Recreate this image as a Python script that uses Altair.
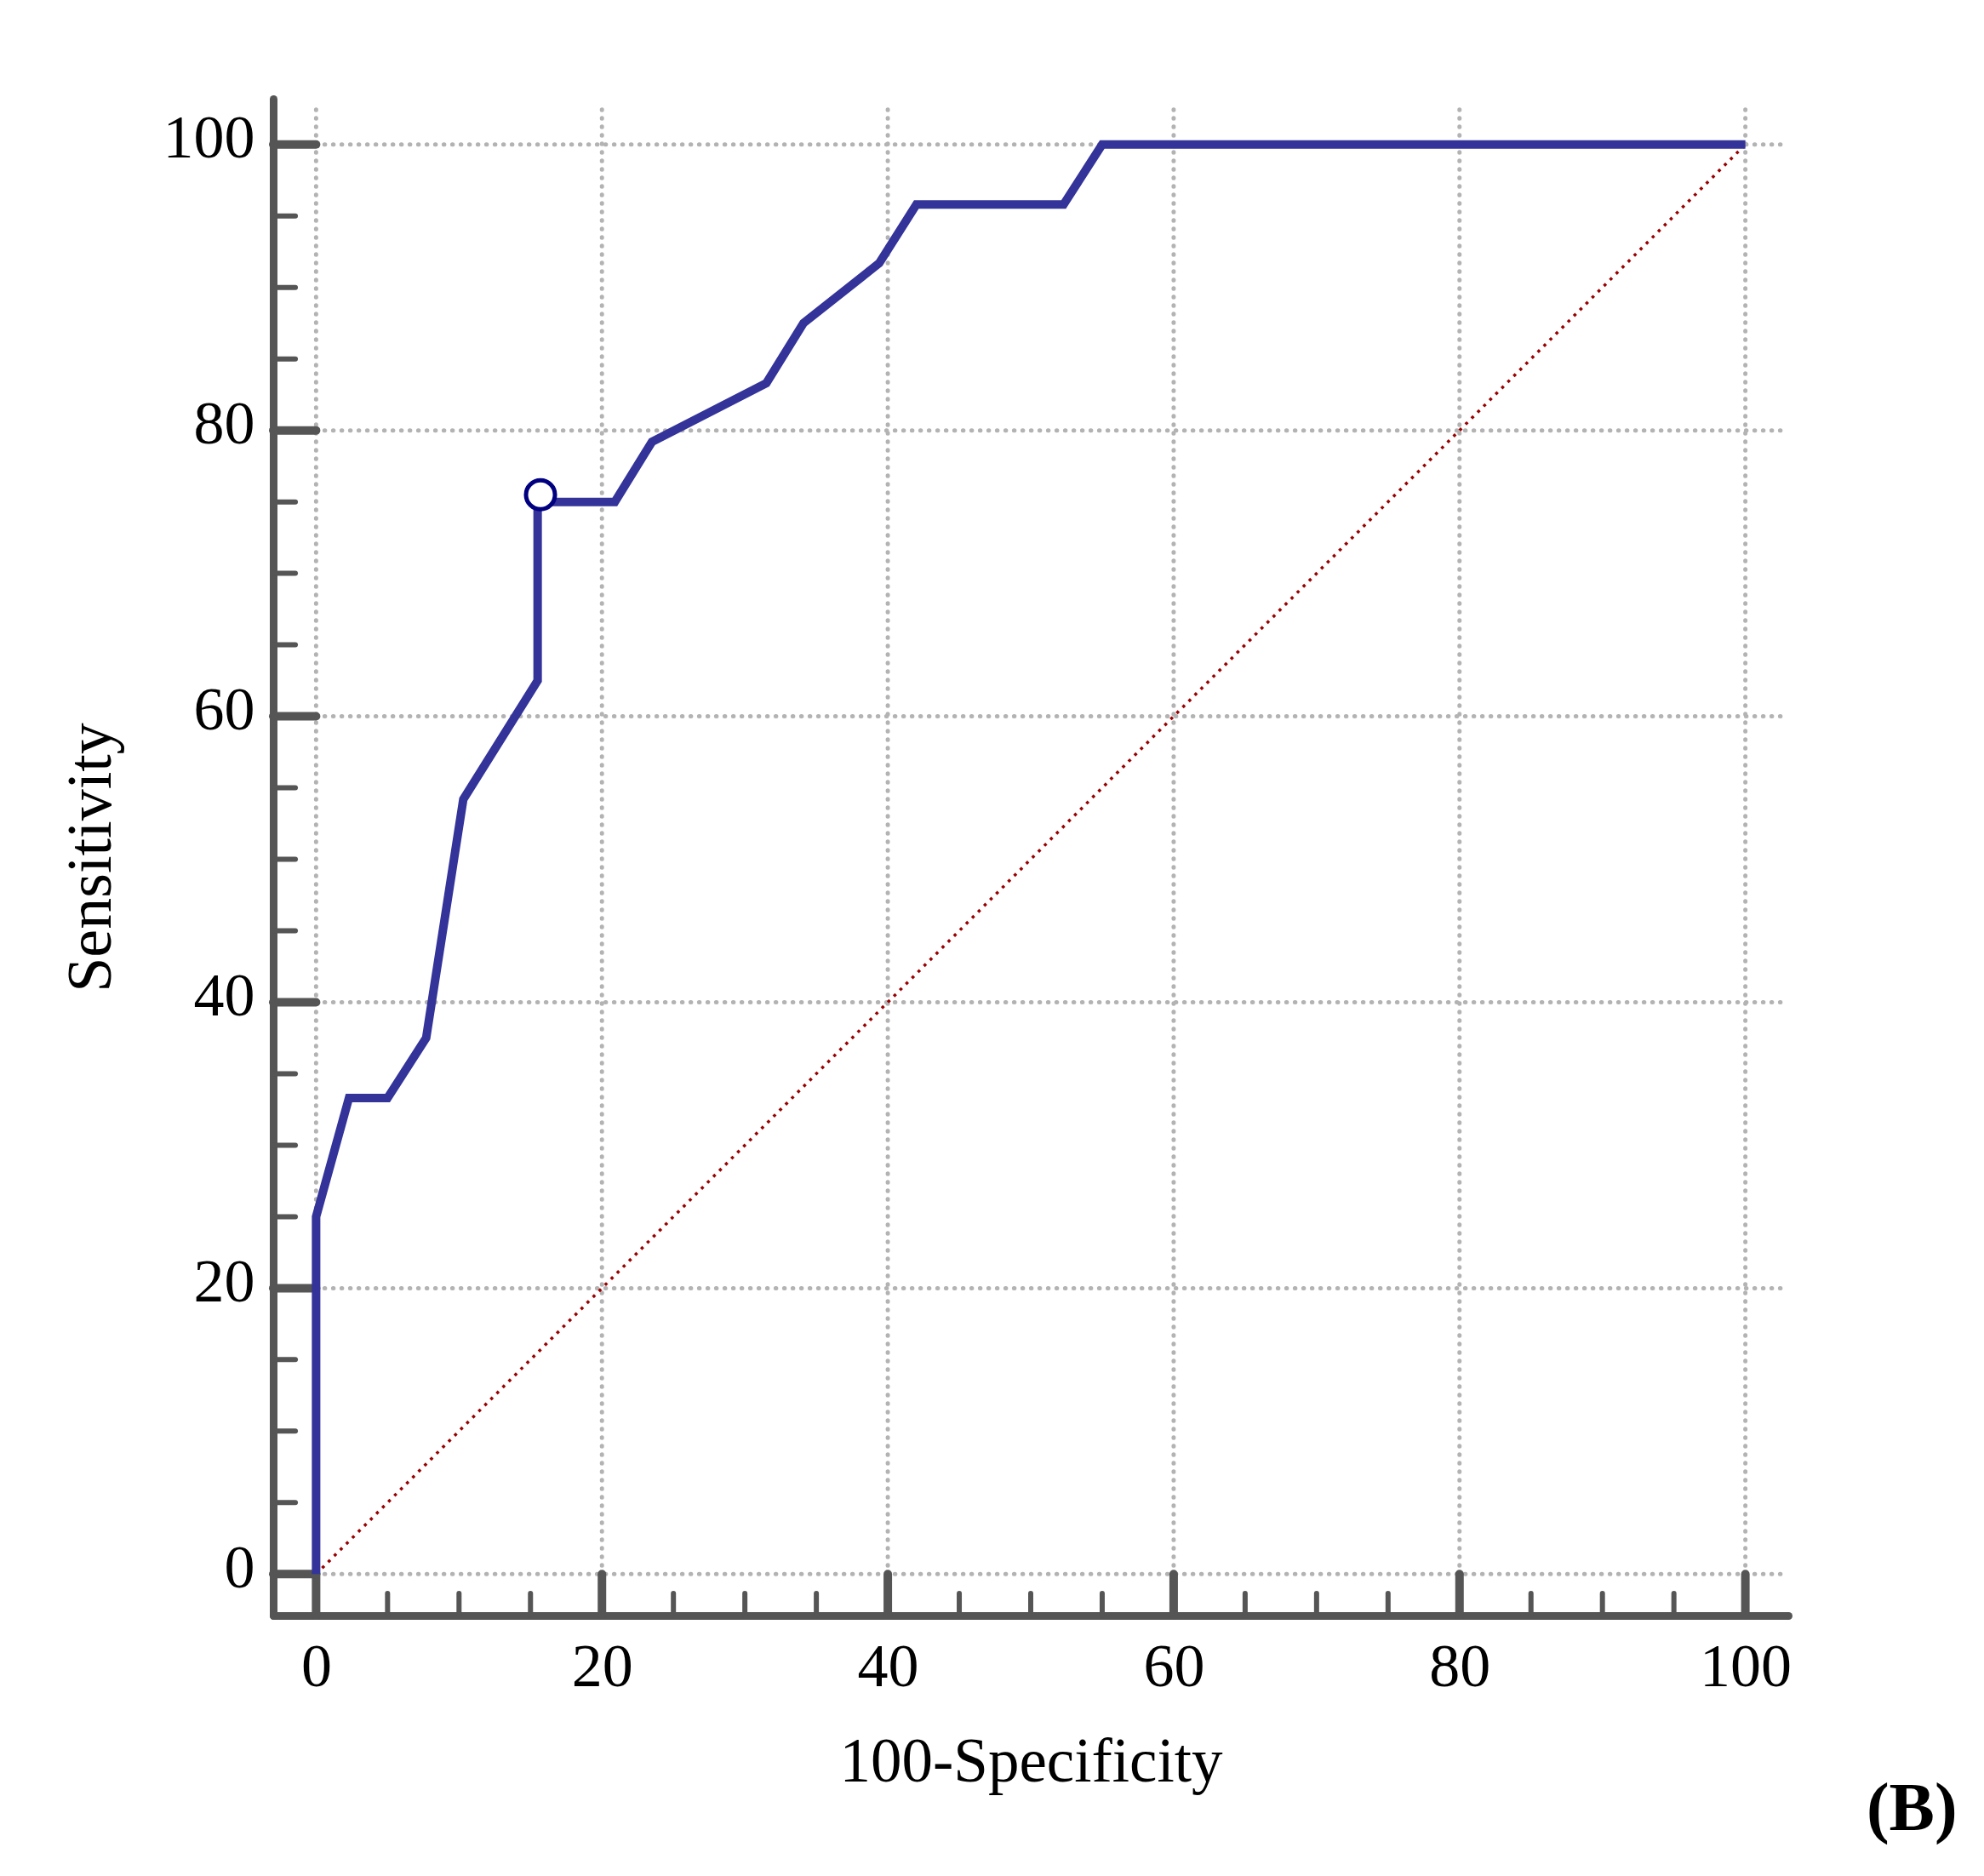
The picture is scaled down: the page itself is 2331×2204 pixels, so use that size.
import altair as alt
import pandas as pd

# ROC curve (100-Specificity vs Sensitivity, %)
fpr = [0, 0, 2.3, 5.0, 7.7, 10.3, 15.5, 15.5, 20.9, 23.5, 31.5, 34.1, 39.4, 42.0, 52.3, 55.0, 100]
sens = [0, 25.0, 33.3, 33.3, 37.5, 54.2, 62.5, 75.0, 75.0, 79.2, 83.3, 87.5, 91.7, 95.8, 95.8, 100, 100]

# criterion point (open circle)
cut_fpr = [15.7]
cut_sens = [75.5]

# reference diagonal
diag_x = [0, 100]
diag_y = [0, 100]

major = [0, 20, 40, 60, 80, 100]
minor = [5, 10, 15, 25, 30, 35, 45, 50, 55, 65, 70, 75, 85, 90, 95]

X_DOM = [-3, 103]
Y_DOM = [-2.9, 103.2]
GRID_END = 102.7
MINOR_X = -1.45
MINOR_Y = -1.35
SERIF = "Liberation Serif"
GREY = "#555555"

xs = alt.Scale(domain=X_DOM, nice=False, zero=False)
ys = alt.Scale(domain=Y_DOM, nice=False, zero=False)

x_axis = alt.Axis(
    values=major, title="100-Specificity", grid=False, ticks=False, tickSize=0,
    domainColor=GREY, domainWidth=9, domainCap="round",
    labelFont=SERIF, labelFontSize=72, labelColor="black", labelPadding=25,
    labelFlush=False, labelOverlap=False,
    titleFont=SERIF, titleFontSize=73, titleFontWeight="normal", titleColor="black",
    titlePadding=40,
)
y_axis = alt.Axis(
    values=major, title="Sensitivity", grid=False, ticks=False, tickSize=0,
    domainColor=GREY, domainWidth=9, domainCap="round",
    labelFont=SERIF, labelFontSize=72, labelColor="black", labelPadding=22,
    labelOffset=-7, labelFlush=False, labelOverlap=False,
    titleFont=SERIF, titleFontSize=74, titleFontWeight="normal", titleColor="black",
    titlePadding=46,
)


def X(f):
    return alt.X(f, type="quantitative", scale=xs, axis=x_axis)


def Y(f):
    return alt.Y(f, type="quantitative", scale=ys, axis=y_axis)


grid_style = dict(color="#b3b3b3", strokeWidth=5, strokeDash=[0.5, 9.5], strokeCap="round")

vgrid = alt.Chart(pd.DataFrame({"v": major, "lo": 0, "hi": GRID_END})).mark_rule(**grid_style).encode(
    x=X("v"), y=Y("lo"), y2="hi")
hgrid = alt.Chart(pd.DataFrame({"v": major, "lo": 0, "hi": GRID_END})).mark_rule(**grid_style).encode(
    y=Y("v"), x=X("lo"), x2="hi")

# ticks pointing into the plot
xmaj = alt.Chart(pd.DataFrame({"v": major, "lo": Y_DOM[0], "hi": 0})).mark_rule(
    color=GREY, strokeWidth=10, strokeCap="round").encode(x=X("v"), y=Y("lo"), y2="hi")
xmin = alt.Chart(pd.DataFrame({"v": minor, "lo": Y_DOM[0], "hi": MINOR_Y})).mark_rule(
    color=GREY, strokeWidth=6, strokeCap="round").encode(x=X("v"), y=Y("lo"), y2="hi")
ymaj = alt.Chart(pd.DataFrame({"v": major, "lo": X_DOM[0], "hi": 0})).mark_rule(
    color=GREY, strokeWidth=10, strokeCap="round").encode(y=Y("v"), x=X("lo"), x2="hi")
ymin = alt.Chart(pd.DataFrame({"v": minor, "lo": X_DOM[0], "hi": MINOR_X})).mark_rule(
    color=GREY, strokeWidth=6, strokeCap="round").encode(y=Y("v"), x=X("lo"), x2="hi")

diag = alt.Chart(pd.DataFrame({"x": diag_x, "y": diag_y})).mark_line(
    color="#990000", strokeWidth=3.5, strokeDash=[3.5, 6.5]).encode(x=X("x"), y=Y("y"))

roc = alt.Chart(pd.DataFrame({"fpr": fpr, "sens": sens, "i": range(len(fpr))})).mark_line(
    color="#333399", strokeWidth=10, strokeJoin="miter").encode(x=X("fpr"), y=Y("sens"), order="i:Q")

cut = alt.Chart(pd.DataFrame({"fpr": cut_fpr, "sens": cut_sens})).mark_point(
    shape="circle", size=1160, filled=True, fill="white", stroke="#000080", strokeWidth=5, opacity=1
).encode(x=X("fpr"), y=Y("sens"))

chart = alt.layer(vgrid, hgrid, diag, xmaj, xmin, ymaj, ymin, roc, cut).properties(
    width=1780,
    height=1782,
    autosize=alt.AutoSizeParams(type="none"),
    padding={"left": 313, "top": 108, "right": 200, "bottom": 270},
    background="white",
    title=alt.TitleParams(
        "(B)", orient="bottom", anchor="end", font=SERIF, fontSize=80,
        fontWeight="bold", color="black", offset=0, dx=195, dy=-20,
    ),
).configure_view(strokeWidth=0)

chart.save("out.html", embed_options={"renderer": "svg", "actions": False})
